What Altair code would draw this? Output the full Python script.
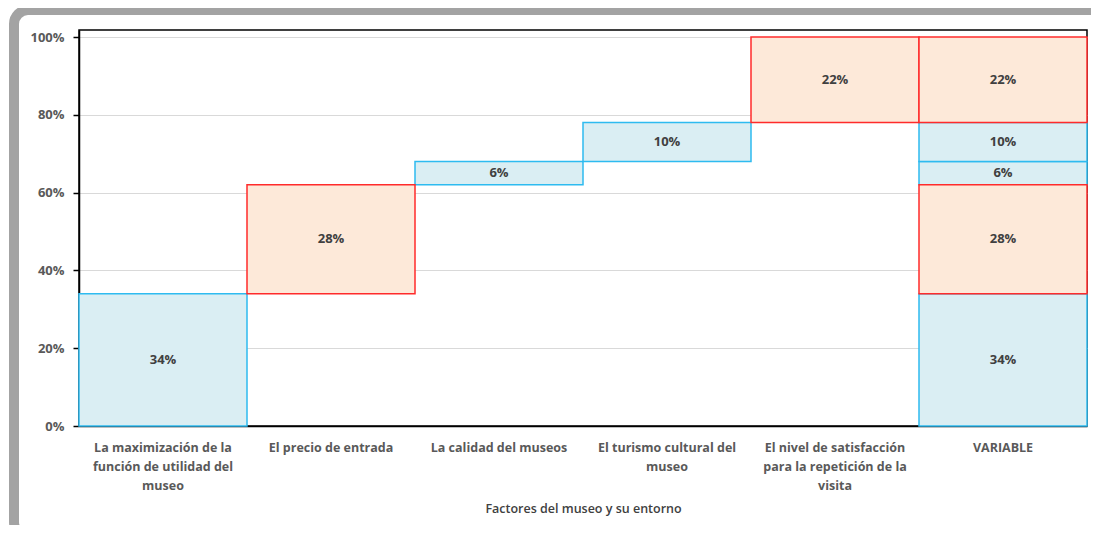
import altair as alt
import pandas as pd

categories = [
    "La maximización de la función de utilidad del museo",
    "El precio de entrada",
    "La calidad del museos",
    "El turismo cultural del museo",
    "El nivel de satisfacción para la repetición de la visita",
]
label_lines = [
    ["La maximización de la", "función de utilidad del", "museo"],
    ["El precio de entrada"],
    ["La calidad del museos"],
    ["El turismo cultural del", "museo"],
    ["El nivel de satisfacción", "para la repetición de la", "visita"],
    ["VARIABLE"],
]
total_label = "VARIABLE"
values = [0.34, 0.28, 0.06, 0.10, 0.22]
kinds = ["azul", "naranja", "azul", "azul", "naranja"]
y_ticks = [0, 0.2, 0.4, 0.6, 0.8, 1.0]

rows = []
cum = 0.0
for c, v, k in zip(categories, values, kinds):
    start, end = cum, cum + v
    rows.append({"cat": c, "start": start, "end": end, "mid": (start + end) / 2, "val": v, "kind": k})
    rows.append({"cat": total_label, "start": start, "end": end, "mid": (start + end) / 2, "val": v, "kind": k})
    cum = end
df = pd.DataFrame(rows)

order = categories + [total_label]
full_labels = dict(zip(order, label_lines))
label_expr = "{" + ",".join(
    "'" + k + "':[" + ",".join("'" + s + "'" for s in v) + "]" for k, v in full_labels.items()
) + "}[datum.label]"

font = "Open Sans"

x = alt.X("cat:N", sort=order, title="Factores del museo y su entorno",
          scale=alt.Scale(paddingInner=0, paddingOuter=0),
          axis=alt.Axis(labelAngle=0, labelExpr=label_expr, ticks=False, domain=True,
                        domainColor="#000000", domainWidth=1.5,
                        labelFont=font, labelFontSize=12.5, labelFontWeight="bold",
                        labelColor="#595959", labelPadding=15, labelLineHeight=19,
                        labelBaseline="top", labelLimit=200,
                        titleFont=font, titleFontSize=12.5, titleFontWeight=600,
                        titleColor="#404040", titlePadding=11))
y_scale = alt.Scale(domain=[0, 1.018], nice=False)

base = alt.Chart(df)

bars = base.mark_bar(strokeWidth=1.5).encode(
    x=x,
    y=alt.Y("start:Q", scale=y_scale, title=None,
            axis=alt.Axis(values=y_ticks, format=".0%", grid=True, gridColor="#d9d9d9",
                          gridWidth=1, domainColor="#000000", domainWidth=1.5,
                          tickColor="#000000", tickSize=6, tickWidth=1.5,
                          labelFont=font, labelFontSize=13, labelFontWeight="bold",
                          labelColor="#595959", labelPadding=9)),
    y2="end:Q",
    fill=alt.Fill("kind:N", scale=alt.Scale(domain=["azul", "naranja"], range=["#DAEEF3", "#FDE9D9"]), legend=None),
    stroke=alt.Stroke("kind:N", scale=alt.Scale(domain=["azul", "naranja"], range=["#2EBBF0", "#FF2B2B"]), legend=None),
)

bars_orange = bars.transform_filter("datum.kind == 'naranja'")
bars_blue = bars.transform_filter("datum.kind == 'azul'")

text = base.mark_text(font=font, fontSize=13, fontWeight="bold", color="#404040").encode(
    x=alt.X("cat:N", sort=order),
    y=alt.Y("mid:Q", scale=y_scale),
    text=alt.Text("val:Q", format=".0%"),
)

# decorative rounded chart-area frame (as in the original spreadsheet export)
frame = alt.Chart(pd.DataFrame({"f": [0]})).mark_rect(
    fillOpacity=0, stroke="#a3a3a3", strokeWidth=10, cornerRadius=14
).encode(x=alt.value(-65), x2=alt.value(1060), y=alt.value(-20), y2=alt.value(506))

chart = alt.layer(frame, bars_blue, bars_orange, text).properties(
    width=1008, height=396,
    autosize=alt.AutoSizeParams(type="none"),
    padding={"left": 71, "top": 22, "right": 4, "bottom": 99},
).configure(background="white").configure_view(stroke="#000000", strokeWidth=1.5)

chart.save("out.html", embed_options={"renderer": "svg", "actions": False})
